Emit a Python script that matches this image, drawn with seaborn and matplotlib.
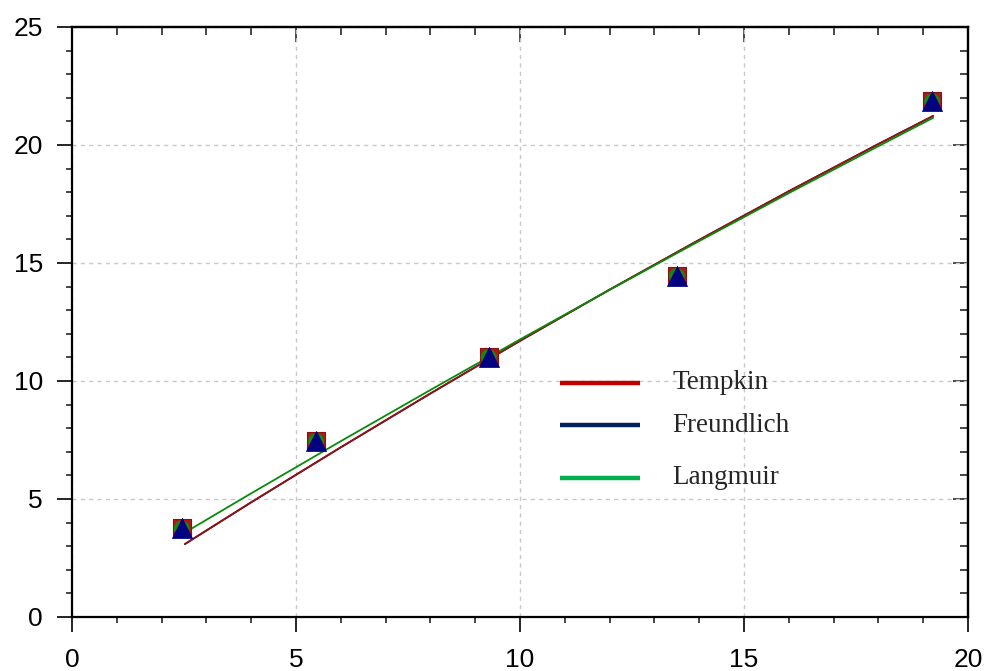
import numpy as np
import pandas as pd
import matplotlib
matplotlib.use("Agg")
import matplotlib.pyplot as plt
from matplotlib.ticker import MultipleLocator
import seaborn as sns

# Experimental equilibrium points
x_exp = [2.45, 5.45, 9.3, 13.5, 19.2]
y_exp = [3.75, 7.45, 11.0, 14.45, 21.85]

# Isotherm model curves
x_tempkin = [2.52, 4, 6, 8, 10, 12, 14, 16, 18, 19.22]
y_tempkin = [3.09, 4.86, 7.19, 9.47, 11.70, 13.87, 15.98, 18.04, 20.04, 21.23]

x_freundlich = [2.52, 4, 6, 8, 10, 12, 14, 16, 18, 19.22]
y_freundlich = [3.09, 4.86, 7.19, 9.47, 11.70, 13.87, 15.98, 18.04, 20.04, 21.23]

x_langmuir = [2.45, 4, 6, 8, 10, 12, 14, 16, 18, 19.22]
y_langmuir = [3.50, 5.24, 7.45, 9.62, 11.76, 13.86, 15.93, 17.96, 19.95, 21.15]

legend_labels = ["Tempkin", "Freundlich", "Langmuir"]
legend_colors = ["#C00000", "#002060", "#00B050"]

sns.set_style("white")
plt.rcParams["font.family"] = ["Liberation Sans", "DejaVu Sans"]

fig = plt.figure(figsize=(9.89, 6.71), dpi=100)
ax = fig.add_axes([0.0728, 0.0805, 0.906, 0.8793])

df_exp = pd.DataFrame({"x": x_exp, "y": y_exp})

# Model lines
sns.lineplot(x=x_freundlich, y=y_freundlich, ax=ax, color="#002060", lw=1.3, zorder=2)
sns.lineplot(x=x_tempkin, y=y_tempkin, ax=ax, color="#9A1010", lw=1.3, zorder=3)
sns.lineplot(x=x_langmuir, y=y_langmuir, ax=ax, color="#0A8A0A", lw=1.3, zorder=3)

# Experimental markers, overlaid
sns.scatterplot(data=df_exp, x="x", y="y", ax=ax, marker="s", s=160,
                color="#B01818", edgecolor="#8B1010", linewidth=0.8, zorder=4)
sns.scatterplot(data=df_exp, x="x", y="y", ax=ax, marker="o", s=130,
                color="#108A10", edgecolor="none", zorder=5)
sns.scatterplot(data=df_exp, x="x", y="y", ax=ax, marker="^", s=210,
                color="#000080", edgecolor="#000080", linewidth=0.5, zorder=6)

ax.set_xlim(0, 20)
ax.set_ylim(0, 25)
ax.set_xlabel("")
ax.set_ylabel("")

ax.xaxis.set_major_locator(MultipleLocator(5))
ax.xaxis.set_minor_locator(MultipleLocator(1))
ax.yaxis.set_major_locator(MultipleLocator(5))
ax.yaxis.set_minor_locator(MultipleLocator(1))

ax.grid(True, which="major", color="#C8C8C8", linestyle=(0, (3, 3)), lw=1.0)

for s in ax.spines.values():
    s.set_linewidth(1.6)
    s.set_color("black")

ax.tick_params(axis="both", which="both", bottom=True, left=True, top=False, right=False)
ax.tick_params(axis="both", which="major", direction="out", length=11, width=1.2,
               labelsize=19, colors="black")
ax.tick_params(axis="x", which="major", pad=11)
ax.tick_params(axis="y", which="major", pad=10)
ax.tick_params(axis="both", which="minor", direction="out", length=4.5, width=1.2)

# Inward ticks on the top and right edges
top = ax.secondary_xaxis("top")
top.xaxis.set_major_locator(MultipleLocator(5))
top.xaxis.set_minor_locator(MultipleLocator(1))
top.tick_params(which="both", top=True, direction="in", width=1.2, labeltop=False)
top.tick_params(which="major", length=11)
top.tick_params(which="minor", length=5.5)
top.spines["top"].set_linewidth(1.6)

right = ax.secondary_yaxis("right")
right.yaxis.set_major_locator(MultipleLocator(5))
right.yaxis.set_minor_locator(MultipleLocator(1))
right.tick_params(which="both", right=True, direction="in", width=1.2, labelright=False)
right.tick_params(which="major", length=11)
right.tick_params(which="minor", length=5.5)
right.spines["right"].set_linewidth(1.6)

# Legend entries
legend_y = [0.397, 0.325, 0.236]
for lab, col, yy in zip(legend_labels, legend_colors, legend_y):
    ax.plot([0.545, 0.634], [yy, yy], transform=ax.transAxes, color=col, lw=3.2,
            solid_capstyle="butt", zorder=7)
    ax.text(0.670, yy, lab, transform=ax.transAxes, va="center", ha="left",
            fontsize=19.5, family=["Liberation Serif", "DejaVu Serif"], zorder=7)

fig.savefig("out.png", dpi=100)
